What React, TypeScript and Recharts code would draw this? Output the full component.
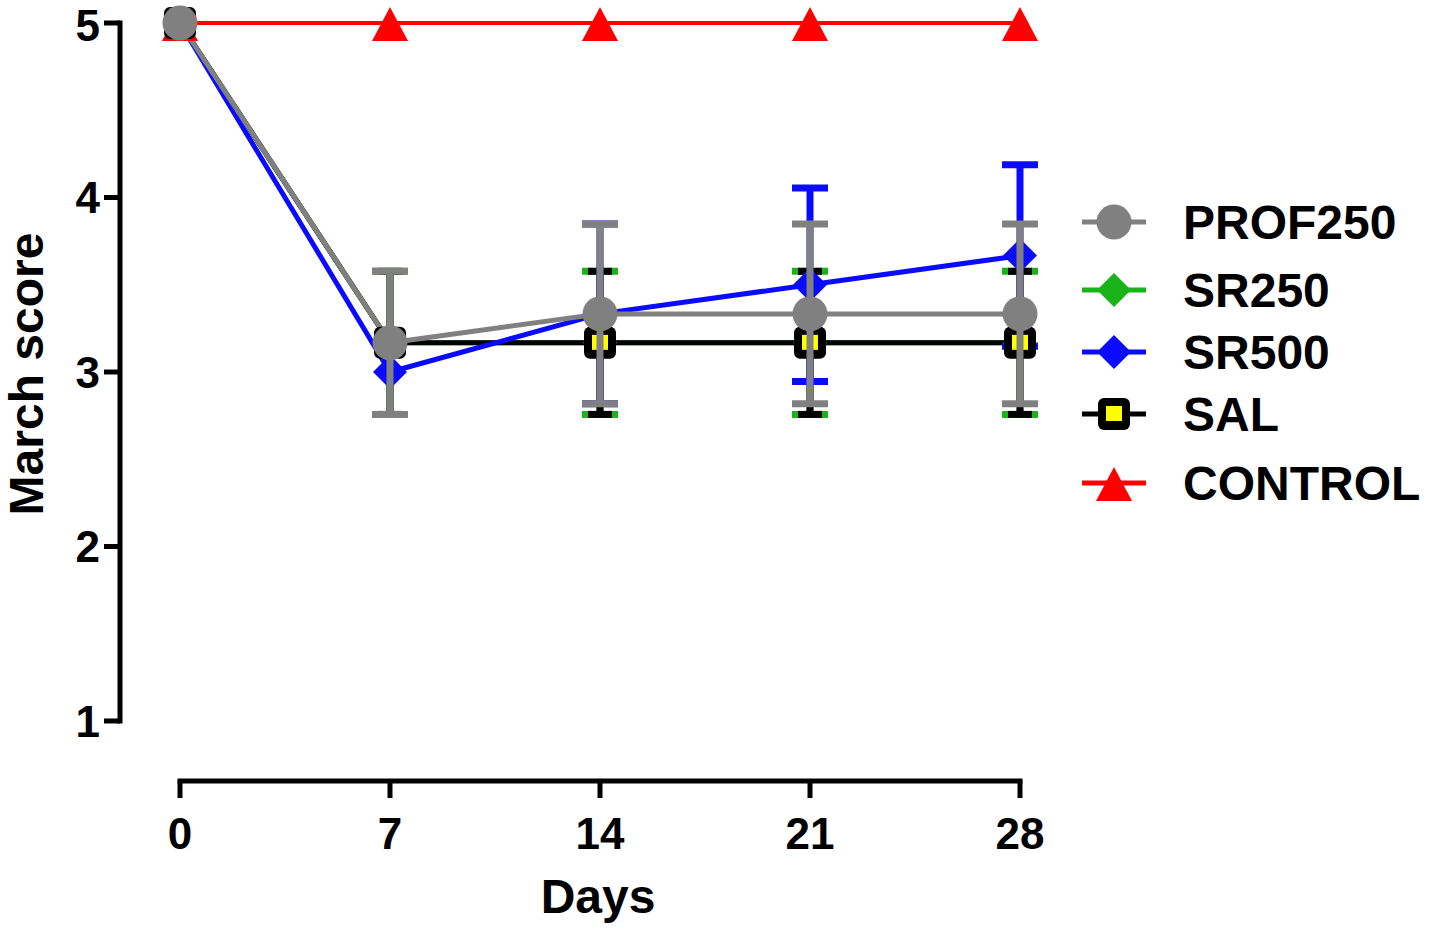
import { LineChart, Line, XAxis, YAxis, ErrorBar, ReferenceLine } from "recharts";

const days = [0, 7, 14, 21, 28];
const prof250 = [5, 3.167, 3.333, 3.333, 3.333];
const prof250Err = [0, 0.41, 0.515, 0.515, 0.515];
const sr250 = [5, 3.167, 3.167, 3.167, 3.167];
const sr250Err = [0, 0.41, 0.41, 0.41, 0.41];
const sr500 = [5, 3.0, 3.333, 3.5, 3.667];
const sr500Err = [0, 0, 0.515, 0.555, 0.52];
const sal = [5, 3.167, 3.167, 3.167, 3.167];
const salErr = [0, 0.41, 0.41, 0.41, 0.41];
const control = [5, 5, 5, 5, 5];
const yTicks = [1, 2, 3, 4, 5];
const legendNames = ["PROF250", "SR250", "SR500", "SAL", "CONTROL"];

const data = days.map((d, i) => ({
  day: d,
  prof250: prof250[i],
  prof250Err: prof250Err[i],
  sr250: sr250[i],
  sr250Err: sr250Err[i],
  sr500: sr500[i],
  sr500Err: sr500Err[i],
  sal: sal[i],
  salErr: salErr[i],
  control: control[i],
}));

const FONT = "'Liberation Sans', Arial, sans-serif";
const GRAY = "#808080";
const GREEN = "#1ab31a";
const BLUE = "#0a0aff";
const RED = "#ff0000";

const circleMark = (cx: number, cy: number, key?: any) => (
  <circle key={key} cx={cx} cy={cy} r={17.5} fill={GRAY} />
);
const diamondMark = (cx: number, cy: number, color: string, key?: any) => (
  <polygon
    key={key}
    points={`${cx},${cy - 17} ${cx + 17},${cy} ${cx},${cy + 17} ${cx - 17},${cy}`}
    fill={color}
  />
);
const squareMark = (cx: number, cy: number, key?: any) => (
  <g key={key}>
    <rect x={cx - 16} y={cy - 16} width={32} height={32} rx={6} fill="#000" />
    <rect x={cx - 8} y={cy - 8} width={16} height={15} fill="#ffff00" />
  </g>
);
const triangleMark = (cx: number, cy: number, key?: any) => (
  <polygon
    key={key}
    points={`${cx},${cy - 16} ${cx + 18},${cy + 18} ${cx - 18},${cy + 18}`}
    fill={RED}
  />
);

const legendRows = [
  { y: 222, color: GRAY, mark: (x: number, y: number) => circleMark(x, y) },
  { y: 290, color: GREEN, mark: (x: number, y: number) => diamondMark(x, y, GREEN) },
  { y: 352, color: BLUE, mark: (x: number, y: number) => diamondMark(x, y, BLUE) },
  { y: 414, color: "#000", mark: (x: number, y: number) => squareMark(x, y) },
  { y: 483, color: RED, mark: (x: number, y: number) => triangleMark(x, y) },
];

const ChartLegend = () => (
  <svg
    width={1431}
    height={935}
    style={{ position: "absolute", left: 0, top: 0, pointerEvents: "none" }}
  >
    {legendRows.map((r, i) => (
      <g key={legendNames[i]}>
        <line x1={1082} x2={1146} y1={r.y} y2={r.y} stroke={r.color} strokeWidth={5} />
        {r.mark(1114, r.y)}
        <text
          x={1183}
          y={r.y}
          dy="0.36em"
          fontFamily={FONT}
          fontWeight="bold"
          fontSize={48}
          fill="#000"
        >
          {legendNames[i]}
        </text>
      </g>
    ))}
  </svg>
);

const tickStyle = { fontSize: 44, fontWeight: "bold", fill: "#000", fontFamily: FONT };

export default function App() {
  return (
    <div style={{ position: "absolute", left: 0, top: 0, width: 1431, height: 935, background: "#fff" }}>
      <LineChart
        width={1431}
        height={935}
        data={data}
        margin={{ top: 23, right: 411, bottom: 0, left: 0 }}
        style={{ fontFamily: FONT }}
      >
        <XAxis
          dataKey="day"
          type="number"
          domain={[-2, 28]}
          ticks={days}
          height={154}
          axisLine={false}
          tickLine={{ stroke: "#000", strokeWidth: 5 }}
          tickSize={17}
          tickMargin={20}
          tick={tickStyle}
          label={{
            content: () => (
              <text x={598} y={913} textAnchor="middle" fontFamily={FONT} fontWeight="bold" fontSize={48} fill="#000">
                Days
              </text>
            ),
          }}
        />
        <YAxis
          type="number"
          domain={[0.656, 5]}
          ticks={yTicks}
          width={120}
          axisLine={false}
          tickLine={{ stroke: "#000", strokeWidth: 5 }}
          tickSize={16}
          tickMargin={4}
          tick={tickStyle}
          label={{
            content: () => (
              <text
                x={43}
                y={374}
                transform="rotate(-90 43 374)"
                textAnchor="middle"
                fontFamily={FONT}
                fontWeight="bold"
                fontSize={48}
                fill="#000"
              >
                March score
              </text>
            ),
          }}
        />
        <ReferenceLine
          segment={[{ x: -2, y: 1 }, { x: -2, y: 5 }]}
          stroke="#000"
          strokeWidth={5}
          strokeLinecap="square"
        />
        <ReferenceLine
          segment={[{ x: 0, y: 0.656 }, { x: 28, y: 0.656 }]}
          stroke="#000"
          strokeWidth={5}
          strokeLinecap="square"
        />
        <Line
          dataKey="control"
          stroke={RED}
          strokeWidth={4}
          isAnimationActive={false}
          activeDot={false}
          dot={(p: any) => triangleMark(p.cx, p.cy, p.key)}
        />
        <Line
          dataKey="sr250"
          stroke={GREEN}
          strokeWidth={5}
          isAnimationActive={false}
          activeDot={false}
          dot={(p: any) => diamondMark(p.cx, p.cy, GREEN, p.key)}
        >
          <ErrorBar dataKey="sr250Err" width={18} strokeWidth={7} stroke={GREEN} isAnimationActive={false} />
        </Line>
        <Line
          dataKey="sal"
          stroke="#000"
          strokeWidth={5}
          isAnimationActive={false}
          activeDot={false}
          dot={(p: any) => squareMark(p.cx, p.cy, p.key)}
        >
          <ErrorBar dataKey="salErr" width={12} strokeWidth={7} stroke="#000" isAnimationActive={false} />
        </Line>
        <Line
          dataKey="sr500"
          stroke={BLUE}
          strokeWidth={5}
          isAnimationActive={false}
          activeDot={false}
          dot={(p: any) => diamondMark(p.cx, p.cy, BLUE, p.key)}
        >
          <ErrorBar dataKey="sr500Err" width={18} strokeWidth={7} stroke={BLUE} isAnimationActive={false} />
        </Line>
        <Line
          dataKey="prof250"
          stroke={GRAY}
          strokeWidth={5}
          isAnimationActive={false}
          activeDot={false}
          dot={(p: any) => circleMark(p.cx, p.cy, p.key)}
        >
          <ErrorBar
            dataKey="prof250Err"
            width={18}
            strokeWidth={7}
            stroke={GRAY}
            isAnimationActive={false}
            {...({ zIndex: 1500 } as any)}
          />
        </Line>
      </LineChart>
      <ChartLegend />
    </div>
  );
}
